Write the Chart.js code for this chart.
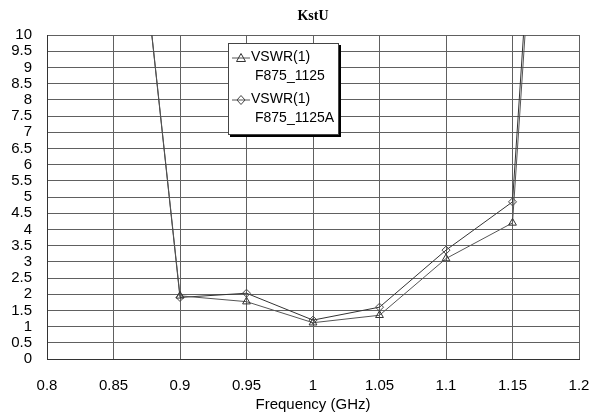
<!DOCTYPE html>
<html>
<head>
<meta charset="utf-8">
<script src="https://cdn.jsdelivr.net/npm/chart.js@4/dist/chart.umd.min.js"></script>
<style>
  body { margin: 0; background: #fff; }
  #wrap { position: relative; width: 594px; height: 415px; }
  #chartTitle {
    position: absolute; left: 47px; width: 532px; top: 8px; text-align: center;
    font-family: "Times New Roman", "Liberation Serif", serif; font-size: 14px; font-weight: bold; color: #000;
  }
  #legendBox {
    position: absolute; left: 228px; top: 43px; width: 109px; height: 90px;
    background: #fff; border: 1px solid #444; box-shadow: 2px 2px 0 #000;
    font-family: Arial, "Liberation Sans", sans-serif; font-size: 14px; color: #000;
  }
  .item { position: absolute; left: 0; width: 109px; }
  .item svg { position: absolute; left: 3px; top: 4px; }
  .item .t1 { position: absolute; left: 22px; top: 0; }
  .item .t2 { position: absolute; left: 26px; top: 19px; }
</style>
</head>
<body>
<div id="wrap">
  <canvas id="chartCanvas" width="594" height="415"></canvas>
  <div id="chartTitle"></div>
  <div id="legendBox"></div>
</div>
<script>
// data
const freq = [0.85, 0.9, 0.95, 1.0, 1.05, 1.1, 1.15, 1.2];
const vswrA = [21, 1.95, 1.77, 1.12, 1.35, 3.1, 4.2, 35];   // triangles
const vswrB = [21, 1.9, 2.03, 1.2, 1.6, 3.36, 4.85, 36];    // diamonds
const seriesNames = [["VSWR(1)", "F875_1125"], ["VSWR(1)", "F875_1125A"]];
const chartTitle = "KstU";
const xTitle = "Frequency (GHz)";

const font = 'Arial, "Liberation Sans", sans-serif';

function toPoints(ys) {
  return freq.map(function (f, i) { return { x: f, y: ys[i] }; });
}

// keep plot box fixed like the original picture
const plotBox = { left: 47, right: 579, top: 35 };

document.getElementById('chartTitle').textContent = chartTitle;

const ctx = document.getElementById('chartCanvas').getContext('2d');
const chart = new Chart(ctx, {
  type: 'line',
  data: {
    datasets: [{
      label: seriesNames[0].join(' '),
      data: toPoints(vswrA),
      borderColor: '#555',
      borderWidth: 1,
      pointStyle: 'triangle',
      pointRadius: 4.5,
      pointBorderColor: '#333',
      pointBackgroundColor: 'rgba(255,255,255,0)',
      pointBorderWidth: 1,
      tension: 0
    }, {
      label: seriesNames[1].join(' '),
      data: toPoints(vswrB),
      borderColor: '#333',
      borderWidth: 1,
      pointStyle: 'rectRot',
      pointRadius: 4,
      pointBorderColor: '#444',
      pointBackgroundColor: 'rgba(255,255,255,0)',
      pointBorderWidth: 1,
      tension: 0
    }]
  },
  options: {
    responsive: false,
    animation: false,
    events: [],
    layout: { padding: { left: 0, right: 594 - plotBox.right, top: plotBox.top, bottom: 0 } },
    plugins: {
      legend: { display: false },
      tooltip: { enabled: false },
      title: { display: false }
    },
    scales: {
      x: {
        type: 'linear',
        min: 0.8,
        max: 1.2,
        grid: { color: '#606060', lineWidth: 1, drawTicks: false },
        border: { color: '#333' },
        ticks: {
          stepSize: 0.05,
          padding: 18,
          color: '#000',
          font: { family: font, size: 15 },
          maxRotation: 0,
          autoSkip: false,
          callback: function (v) { return String(Number(v.toFixed(2))); }
        },
        title: {
          display: true,
          text: xTitle,
          color: '#000',
          font: { family: font, size: 15 },
          padding: { top: 0, bottom: 1 }
        },
        afterFit: function (scale) {
          scale.height = 56;
          scale.paddingLeft = 0;
          scale.paddingRight = 0;
        }
      },
      y: {
        min: 0,
        max: 10,
        grid: { color: '#606060', lineWidth: 1, drawTicks: false },
        border: { color: '#333' },
        ticks: {
          stepSize: 0.5,
          padding: 15,
          color: '#000',
          font: { family: font, size: 15 },
          autoSkip: false,
          callback: function (v) { return String(Number(v.toFixed(1))); }
        },
        afterFit: function (scale) {
          scale.width = plotBox.left;
          scale.paddingTop = 0;
        }
      }
    }
  }
});

// legend box with marker samples
const box = document.getElementById('legendBox');
const markerSvg = [
  '<svg width="18" height="12"><line x1="0" y1="6" x2="18" y2="6" stroke="#555"/><polygon points="9,1.5 13.5,9.5 4.5,9.5" fill="none" stroke="#333"/></svg>',
  '<svg width="18" height="12"><line x1="0" y1="6" x2="18" y2="6" stroke="#555"/><polygon points="9,1.5 13,6 9,10.5 5,6" fill="none" stroke="#444"/></svg>'
];
seriesNames.forEach(function (names, i) {
  const it = document.createElement('div');
  it.className = 'item';
  it.style.top = (4 + i * 42) + 'px';
  it.innerHTML = markerSvg[i] + '<span class="t1">' + names[0] + '</span><span class="t2">' + names[1] + '</span>';
  box.appendChild(it);
});
</script>
</body>
</html>
